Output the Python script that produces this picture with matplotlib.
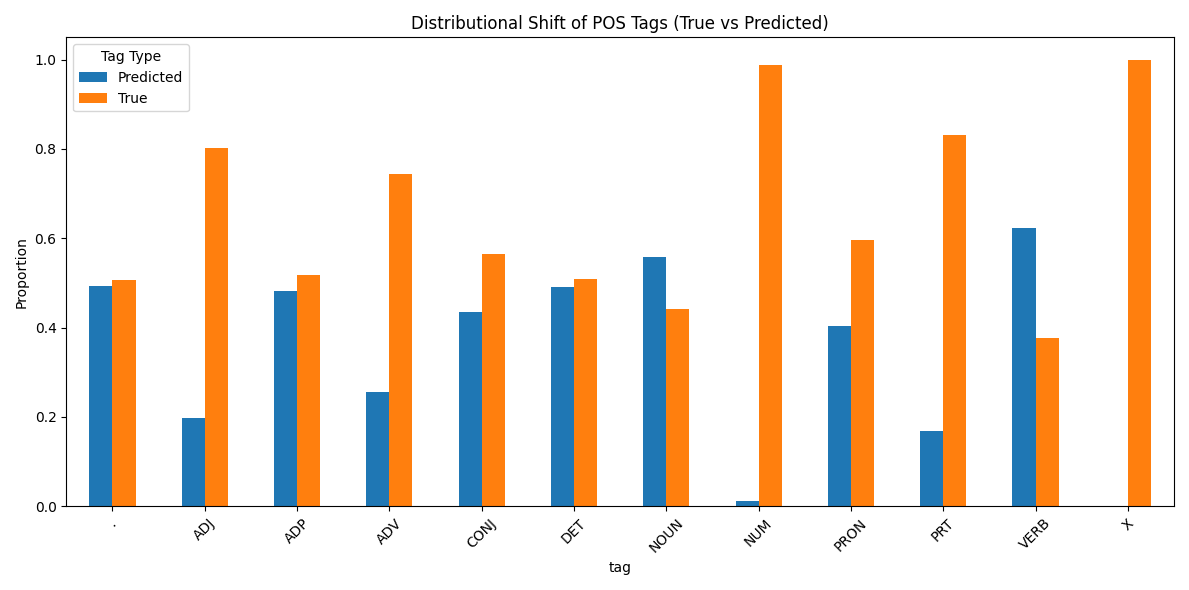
import pandas as pd
import matplotlib
matplotlib.use('Agg')
import matplotlib.pyplot as plt

# Values
tags = ['.', 'ADJ', 'ADP', 'ADV', 'CONJ', 'DET', 'NOUN', 'NUM', 'PRON', 'PRT', 'VERB', 'X']
predicted = [0.494, 0.197, 0.482, 0.255, 0.436, 0.492, 0.559, 0.011, 0.404, 0.169, 0.623, 0.0]
true_vals = [0.506, 0.803, 0.518, 0.745, 0.564, 0.508, 0.441, 0.989, 0.596, 0.831, 0.377, 1.0]

df = pd.DataFrame({'Predicted': predicted, 'True': true_vals}, index=pd.Index(tags, name='tag'))

fig, ax = plt.subplots(figsize=(11.89, 5.9), dpi=100)
df.plot(kind='bar', ax=ax)
ax.set_title('Distributional Shift of POS Tags (True vs Predicted)')
ax.set_ylabel('Proportion')
ax.set_xlabel('tag')
ax.legend(title='Tag Type')
plt.xticks(rotation=45)
plt.tight_layout()
plt.savefig('out.png')
